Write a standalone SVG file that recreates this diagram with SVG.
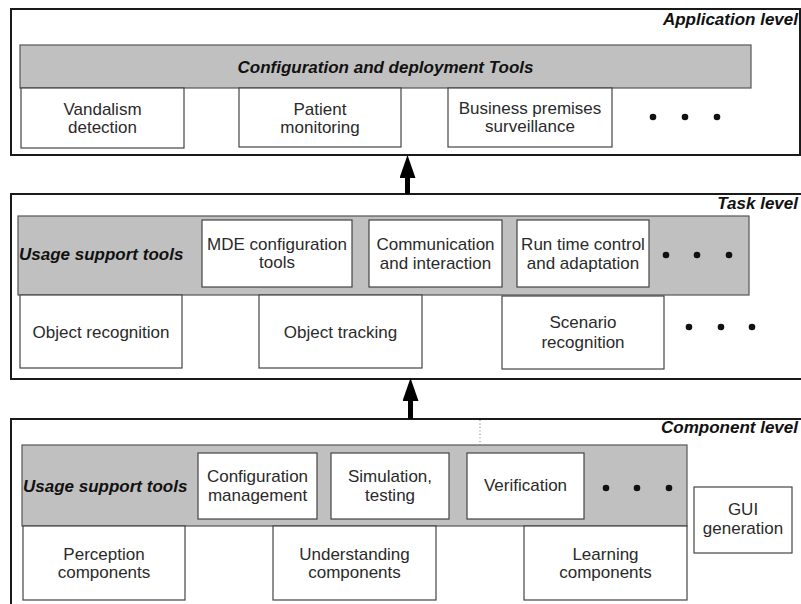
<svg xmlns="http://www.w3.org/2000/svg" width="801" height="604" viewBox="0 0 801 604">
<defs>
<style>
.lvl{fill:#fff;stroke:#1a1a1a;stroke-width:2}
.bar{fill:#c0c0c0;stroke:#555;stroke-width:1.2}
.box{fill:#fff;stroke:#444;stroke-width:1.2}
.t{font-family:"Liberation Sans",Arial,sans-serif;font-size:17px;fill:#2a2a2a;text-anchor:middle}
.b{font-family:"Liberation Sans",Arial,sans-serif;font-size:17px;font-weight:bold;font-style:italic;fill:#111}
.r{text-anchor:end}
.m{text-anchor:middle}
.dot{fill:#111}
.conn{stroke:#000;stroke-width:5;fill:none}
</style>
<marker id="ah" markerUnits="userSpaceOnUse" markerWidth="23" markerHeight="16" refX="0" refY="8" orient="auto">
<path d="M0,0 L23,8 L0,16 z" fill="#000"/>
</marker>
</defs>
<rect width="801" height="604" fill="#fff"/>

<g id="application-level">
<rect class="lvl" x="11" y="9" width="789" height="146"/>
<text class="b r" x="798" y="25">Application level</text>
</g>
<g id="config-deploy-tools">
<rect class="bar" x="20" y="45" width="731" height="43"/>
<text class="b m" x="385.5" y="73">Configuration and deployment Tools</text>
</g>
<g id="vandalism">
<rect class="box" x="21" y="88" width="163" height="60"/>
<text class="t" x="102.5" y="115">Vandalism</text>
<text class="t" x="102.5" y="133">detection</text>
</g>
<g id="patient">
<rect class="box" x="239" y="88" width="162" height="59"/>
<text class="t" x="320" y="115">Patient</text>
<text class="t" x="320" y="133">monitoring</text>
</g>
<g id="business">
<rect class="box" x="448" y="88" width="164" height="59"/>
<text class="t" x="530" y="114">Business premises</text>
<text class="t" x="530" y="132">surveillance</text>
</g>
<g id="app-dots">
<circle class="dot" cx="653" cy="117" r="3.3"/>
<circle class="dot" cx="685" cy="117" r="3.3"/>
<circle class="dot" cx="717" cy="117" r="3.3"/>
</g>

<g id="task-level">
<rect class="lvl" x="11" y="194" width="793" height="185"/>
<text class="b r" x="798" y="209">Task level</text>
</g>
<g id="task-usage-tools">
<rect class="bar" x="18" y="216" width="731" height="79"/>
<text class="b" x="19" y="260">Usage support tools</text>
</g>
<g id="mde">
<rect class="box" x="202" y="220" width="150" height="67"/>
<text class="t" x="277" y="250">MDE configuration</text>
<text class="t" x="277" y="268">tools</text>
</g>
<g id="communication">
<rect class="box" x="369" y="220" width="133" height="67"/>
<text class="t" x="435.5" y="250">Communication</text>
<text class="t" x="435.5" y="269">and interaction</text>
</g>
<g id="runtime">
<rect class="box" x="517" y="220" width="132" height="67"/>
<text class="t" x="583" y="250">Run time control</text>
<text class="t" x="583" y="269">and adaptation</text>
</g>
<g id="task-bar-dots">
<circle class="dot" cx="666" cy="255" r="3.3"/>
<circle class="dot" cx="697" cy="255" r="3.3"/>
<circle class="dot" cx="729" cy="255" r="3.3"/>
</g>
<g id="object-recognition">
<rect class="box" x="20" y="295" width="162" height="73"/>
<text class="t" x="101" y="338">Object recognition</text>
</g>
<g id="object-tracking">
<rect class="box" x="259" y="295" width="163" height="73"/>
<text class="t" x="340.5" y="338">Object tracking</text>
</g>
<g id="scenario">
<rect class="box" x="502" y="296" width="162" height="73"/>
<text class="t" x="583" y="328">Scenario</text>
<text class="t" x="583" y="348">recognition</text>
</g>
<g id="task-dots">
<circle class="dot" cx="689" cy="327" r="3.3"/>
<circle class="dot" cx="721" cy="327" r="3.3"/>
<circle class="dot" cx="752" cy="327" r="3.3"/>
</g>

<g id="component-level">
<rect class="lvl" x="11" y="419" width="793" height="195"/>
<text class="b r" x="798" y="433">Component level</text>
<line x1="480" y1="420" x2="480" y2="444" stroke="#777" stroke-width="1" stroke-dasharray="1,2.5"/>
</g>
<g id="comp-usage-tools">
<rect class="bar" x="22" y="445" width="665" height="81"/>
<text class="b" x="23" y="492">Usage support tools</text>
</g>
<g id="config-mgmt">
<rect class="box" x="198" y="453" width="119" height="66"/>
<text class="t" x="257.5" y="482">Configuration</text>
<text class="t" x="257.5" y="500.5">management</text>
</g>
<g id="simulation">
<rect class="box" x="331" y="453" width="118" height="66"/>
<text class="t" x="390" y="482">Simulation,</text>
<text class="t" x="390" y="500.5">testing</text>
</g>
<g id="verification">
<rect class="box" x="467" y="453" width="117" height="66"/>
<text class="t" x="525.5" y="491">Verification</text>
</g>
<g id="comp-bar-dots">
<circle class="dot" cx="606" cy="488" r="3.3"/>
<circle class="dot" cx="637" cy="488" r="3.3"/>
<circle class="dot" cx="669" cy="488" r="3.3"/>
</g>
<g id="gui">
<rect class="box" x="694" y="487" width="98" height="66"/>
<text class="t" x="743" y="515">GUI</text>
<text class="t" x="743" y="534">generation</text>
</g>
<g id="perception">
<rect class="box" x="23" y="526" width="162" height="74"/>
<text class="t" x="104" y="560">Perception</text>
<text class="t" x="104" y="578">components</text>
</g>
<g id="understanding">
<rect class="box" x="273" y="526" width="163" height="74"/>
<text class="t" x="354.5" y="560">Understanding</text>
<text class="t" x="354.5" y="578">components</text>
</g>
<g id="learning">
<rect class="box" x="524" y="526" width="163" height="74"/>
<text class="t" x="605.5" y="560">Learning</text>
<text class="t" x="605.5" y="578">components</text>
</g>

<g id="connectors">
<line class="conn" x1="407.5" y1="194" x2="407.5" y2="178" marker-end="url(#ah)"/>
<line class="conn" x1="410.5" y1="419" x2="410.5" y2="401" marker-end="url(#ah)"/>
</g>
</svg>
